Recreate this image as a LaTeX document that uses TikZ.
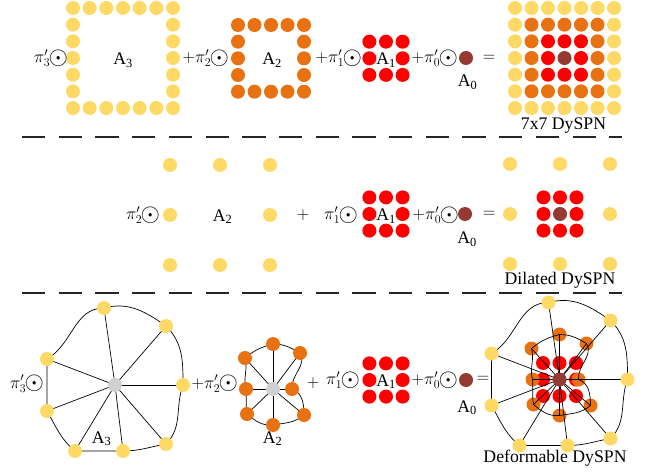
\documentclass[tikz,border=0pt]{standalone}
\usepackage{fontspec}
\setmainfont{Liberation Serif}
\pgfdeclarelayer{bg}
\pgfdeclarelayer{mid}
\pgfdeclarelayer{fg}
\pgfsetlayers{bg,mid,main,fg}
\definecolor{cy}{RGB}{255,217,102}
\definecolor{co}{RGB}{232,113,18}
\definecolor{cr}{RGB}{255,0,0}
\definecolor{cb}{RGB}{148,58,50}
\definecolor{cg}{RGB}{208,208,208}
\newcommand\figfont{\fontsize{17.7}{20}\selectfont}
\newcommand\myodot{\kern-1.5pt\raisebox{-1.6pt}{\fontsize{24}{24}\selectfont$\odot$}}
\tikzset{
  basecirc/.style={circle,inner sep=0pt,minimum size=14pt,draw=none},
  ycirc/.style={basecirc,fill=cy},
  ocirc/.style={basecirc,fill=co},
  rcirc/.style={basecirc,fill=cr},
  bcirc/.style={basecirc,fill=cb},
  gcirc/.style={basecirc,fill=cg},
  spoke/.style={line width=0.7pt,black},
  bound/.style={line width=0.7pt,black},
  divider/.style={line width=1.6pt,black!85,dash pattern=on 23.3pt off 13.4pt},
  txt/.style={inner sep=0pt,outer sep=0pt,font=\figfont},
  opnode/.style={txt,anchor=base east},
  lbl/.style={txt,anchor=base},
}
% #1 prefix, #2 centre node
\newcommand\yellowshape[2]{%
  \begin{scope}[shift={(#2.center)}]
    \node[ycirc] (#1t) at (-11,77) {};
    \node[ycirc] (#1ur) at (51,59) {};
    \node[ycirc] (#1r) at (68,0) {};
    \node[ycirc] (#1lr) at (51,-59) {};
    \node[ycirc] (#1bm) at (8,-66) {};
    \node[ycirc] (#1bl) at (-40,-66) {};
    \node[ycirc] (#1ll) at (-68,-26) {};
    \node[ycirc] (#1lu) at (-68,26) {};
  \end{scope}
  \begin{pgfonlayer}{mid}
    \foreach \q in {t,ur,r,lr,bm,bl,ll,lu} \draw[spoke] (#2.center) -- (#1\q.center);
    \draw[bound] (#1t.center) to[out=15,in=145] (#1ur.center)
       to[out=-45,in=90] (#1r.center)
       to[out=-110,in=45] (#1lr.center)
       to[out=190,in=0] (#1bm.center)
       -- (#1bl.center)
       to[out=140,in=-60] (#1ll.center)
       -- (#1lu.center)
       to[out=30,in=180] (#1t.center);
  \end{pgfonlayer}
}
% #1 prefix, #2 centre node, #3 layer
\newcommand\orangeshape[3]{%
  \begin{pgfonlayer}{#3}
  \begin{scope}[shift={(#2.center)}]
    \node[ocirc] (#1t) at (0,45) {};
    \node[ocirc] (#1ur) at (27,36) {};
    \node[ocirc] (#1ul) at (-28,31) {};
    \node[ocirc] (#1l) at (-27,0) {};
    \node[ocirc] (#1r) at (19,0) {};
    \node[ocirc] (#1ll) at (-26,-25) {};
    \node[ocirc] (#1lr) at (31,-26) {};
    \node[ocirc] (#1b) at (0,-36) {};
  \end{scope}
  \end{pgfonlayer}
  \begin{pgfonlayer}{mid}
    \foreach \q in {t,ur,r,lr,b,ll,l,ul} \draw[spoke] (#2.center) -- (#1\q.center);
    \draw[bound] (#1t.center) to[out=0,in=150] (#1ur.center)
      to[out=-60,in=95] (#1r.center)
      to[out=-20,in=90] (#1lr.center)
      to[out=220,in=10] (#1b.center)
      to[out=185,in=-40] (#1ll.center)
      to[out=100,in=-85] (#1l.center)
      to[out=105,in=-75] (#1ul.center)
      to[out=40,in=195] (#1t.center);
  \end{pgfonlayer}
}
\begin{document}
\begin{tikzpicture}[x=1pt,y=1pt]
\useasboundingbox (0,0) rectangle (647,-473);

% ================= top row: 7x7 =================
\foreach \i in {0,...,6} \foreach \j in {0,...,6} {
  \pgfmathtruncatemacro\rr{max(abs(\i-3),abs(\j-3))}
  \ifnum\rr=3 \node[ycirc] (ya\i\j) at ({73+16.67*\i},{-8-16.67*\j}) {}; \fi
}
\foreach \i in {0,...,4} \foreach \j in {0,...,4} {
  \pgfmathtruncatemacro\rr{max(abs(\i-2),abs(\j-2))}
  \ifnum\rr=2 \node[ocirc] (oa\i\j) at ({238+16.5*\i},{-25-16.67*\j}) {}; \fi
}
\foreach \i in {0,1,2} \foreach \j in {0,1,2} {
  \pgfmathtruncatemacro\rr{max(abs(\i-1),abs(\j-1))}
  \ifnum\rr=1 \node[rcirc] (ra\i\j) at ({386+16.6*(\i-1)},{-58.3-16.6*(\j-1)}) {}; \fi
}
\node[bcirc] (ba) at (466,-58) {};
\foreach \i in {0,...,6} \foreach \j in {0,...,6} {
  \pgfmathtruncatemacro\rr{max(abs(\i-3),abs(\j-3))}
  \ifcase\rr \def\cc{cb}\or \def\cc{cr}\or \def\cc{co}\or \def\cc{cy}\fi
  \node[basecirc,fill=\cc] (ga\i\j) at ({515+16.5*\i},{-8-16.67*\j}) {};
}
\node[opnode] (p3a) at (68,-62.5) {$\pi'_3$\myodot};
\node[opnode] (p2a) at (229,-62.5) {$+\pi'_2$\myodot};
\node[opnode] (p1a) at (362,-62.5) {$+\pi'_1$\myodot};
\node[opnode] (p0a) at (458,-62.5) {$+\pi'_0$\myodot};
\node[txt] (eqa) at (489,-58.5) {$=$};
\node[lbl] (A3a) at (123,-65) {A\textsubscript{3}};
\node[lbl] (A2a) at (272,-65) {A\textsubscript{2}};
\node[lbl] (A1a) at (386,-64.5) {A\textsubscript{1}};
\node[lbl] (A0a) at (467.5,-86.5) {A\textsubscript{0}};
\node[lbl] (t7) at (563.5,-130) {7x7 DySPN};

\coordinate (d1a) at (22,-137);
\coordinate (d1b) at (622,-137);
\draw[divider] (d1a) -- (d1b);

% ================= middle row: dilated =================
\foreach \i in {0,1,2} \foreach \j in {0,1,2} {
  \pgfmathtruncatemacro\rr{max(abs(\i-1),abs(\j-1))}
  \ifnum\rr=1 \node[ycirc] (yb\i\j) at ({170+50*\i},{-165-50*\j}) {}; \fi
}
\foreach \i in {0,1,2} \foreach \j in {0,1,2} {
  \pgfmathtruncatemacro\rr{max(abs(\i-1),abs(\j-1))}
  \ifnum\rr=1 \node[rcirc] (rb\i\j) at ({386+16.6*(\i-1)},{-214-16.6*(\j-1)}) {}; \fi
}
\node[bcirc] (bb) at (465,-214) {};
\foreach \i in {0,1,2} \foreach \j in {0,1,2} {
  \pgfmathtruncatemacro\rr{max(abs(\i-1),abs(\j-1))}
  \ifnum\rr=1 \node[ycirc] (yd\i\j) at ({510+50*\i},{-164-50*\j}) {}; \fi
}
\foreach \i in {0,1,2} \foreach \j in {0,1,2} {
  \pgfmathtruncatemacro\rr{max(abs(\i-1),abs(\j-1))}
  \ifnum\rr=1 \node[rcirc] (rd\i\j) at ({560+16.5*(\i-1)},{-214-16.6*(\j-1)}) {}; \fi
}
\node[bcirc] (bd) at (560,-214) {};
\node[opnode] (p2b) at (160,-219.5) {$\pi'_2$\myodot};
\node[txt] (plb) at (303,-215) {$+$};
\node[opnode] (p1b) at (358,-219.5) {$\pi'_1$\myodot};
\node[opnode] (p0b) at (459,-219.5) {$+\pi'_0$\myodot};
\node[txt] (eqb) at (489,-214) {$=$};
\node[lbl] (A2b) at (222.5,-221) {A\textsubscript{2}};
\node[lbl] (A1b) at (386,-220.5) {A\textsubscript{1}};
\node[lbl] (A0b) at (467,-243.5) {A\textsubscript{0}};
\node[lbl] (tdil) at (560,-284) {Dilated DySPN};

\coordinate (d2a) at (22,-293);
\coordinate (d2b) at (622,-293);
\draw[divider] (d2a) -- (d2b);

% ================= bottom row: deformable =================
\node[gcirc] (A3c) at (115,-385) {};
\yellowshape{Y}{A3c}
\node[gcirc] (A2c) at (273,-389) {};
\orangeshape{O}{A2c}{fg}
\foreach \i in {0,1,2} \foreach \j in {0,1,2} {
  \pgfmathtruncatemacro\rr{max(abs(\i-1),abs(\j-1))}
  \ifnum\rr=1 \node[rcirc] (rc\i\j) at ({386+16.6*(\i-1)},{-380-16.6*(\j-1)}) {}; \fi
}
\node[bcirc] (bc) at (466,-380) {};

\node[bcirc] (Dc) at (559.5,-379.5) {};
\begin{pgfonlayer}{bg}
\foreach \i in {0,1,2} \foreach \j in {0,1,2} {
  \pgfmathtruncatemacro\rr{max(abs(\i-1),abs(\j-1))}
  \ifnum\rr=1 \node[rcirc] (rD\i\j) at ({559.5+16.5*(\i-1)},{-379.5-16.5*(\j-1)}) {}; \fi
}
\end{pgfonlayer}
\orangeshape{E}{Dc}{bg}
\yellowshape{D}{Dc}

\node[opnode] (p3c) at (44,-388) {$\pi'_3$\myodot};
\node[opnode] (p2c) at (238,-388) {$+\pi'_2$\myodot};
\node[txt] (plc) at (313,-383) {$+$};
\node[opnode] (p1c) at (360,-384.5) {$\pi'_1$\myodot};
\node[opnode] (p0c) at (458,-384.5) {$+\pi'_0$\myodot};
\node[txt] (eqc) at (483,-379) {$=$};
\node[lbl] (A3lc) at (101.5,-443) {A\textsubscript{3}};
\node[lbl] (A2lc) at (272.5,-443) {A\textsubscript{2}};
\node[lbl] (A1c) at (386,-386) {A\textsubscript{1}};
\node[lbl] (A0c) at (467,-412) {A\textsubscript{0}};
\node[lbl] (tdef) at (555,-462) {Deformable DySPN};
\end{tikzpicture}
\end{document}
